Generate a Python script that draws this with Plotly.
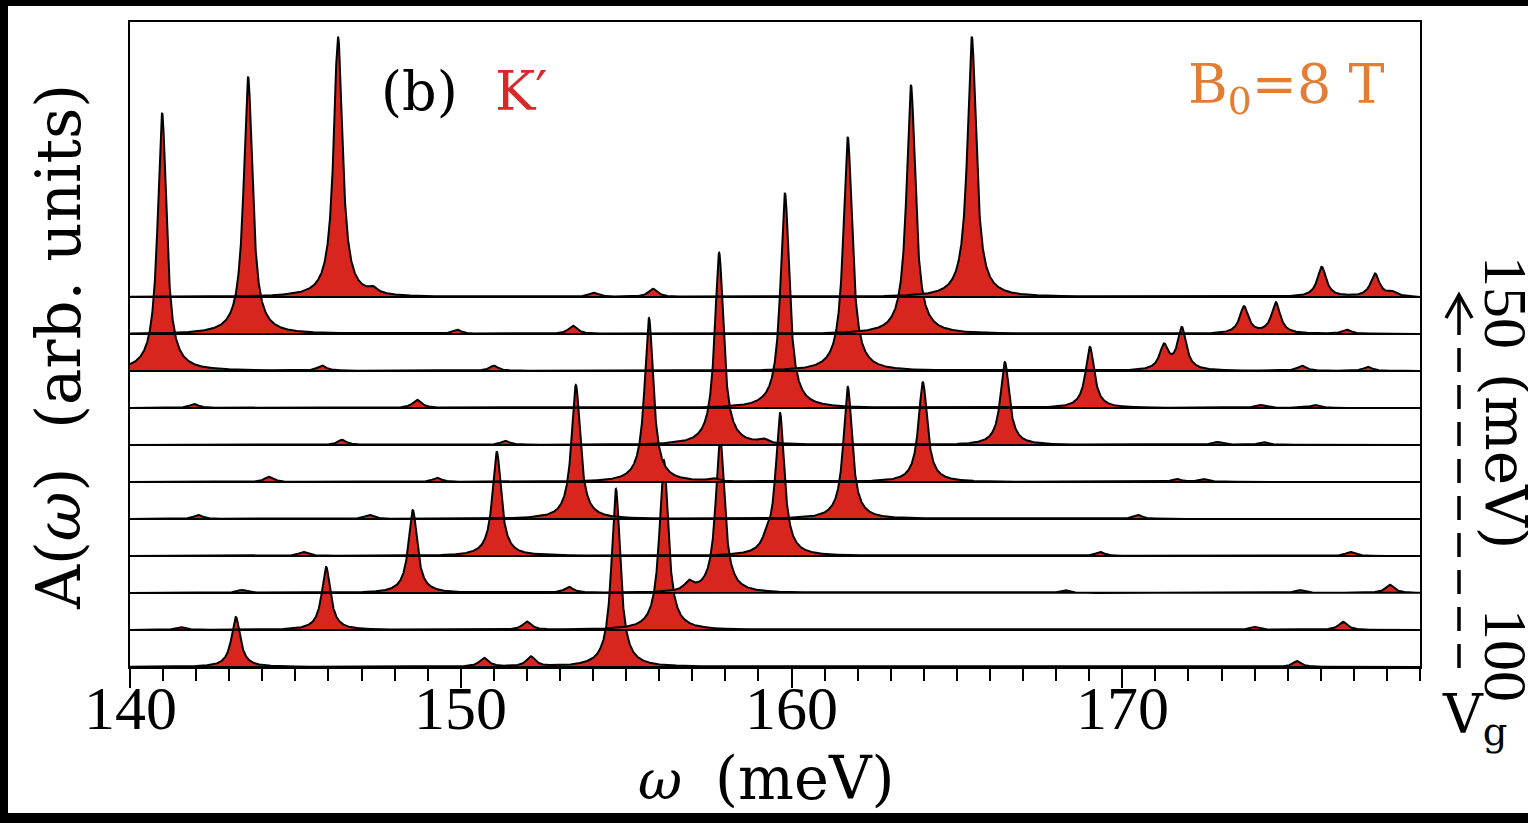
import numpy as np
import plotly.graph_objects as go

# ---------------- data ----------------
omega_range = [140.0, 179.0]          # meV
curve_offset = 1.0                    # vertical shift between successive V_g curves
gamma = 0.16                          # Lorentzian half width (meV)

# peak centres (meV); curve 0 = lowest V_g (100 meV) ... curve 10 = highest (150 meV)
peak_centers = [
    [143.20, 150.70, 152.12, 154.69, 175.28],
    [141.51, 145.93, 152.00, 156.14, 173.98, 176.67],
    [143.36, 148.55, 153.27, 156.90, 157.84, 168.26, 175.37, 178.09],
    [145.23, 151.09, 159.25, 159.65, 169.32, 176.88],
    [142.06, 147.22, 153.48, 161.70, 170.47],
    [144.20, 149.28, 155.69, 157.62, 163.97, 171.65, 172.44],
    [146.41, 151.34, 157.81, 159.14, 166.45, 172.86, 174.25],
    [141.93, 148.68, 159.80, 169.02, 174.16, 175.82],
    [140.97, 145.80, 151.00, 161.70, 171.26, 171.80, 175.43, 177.42],
    [143.57, 149.89, 153.39, 163.61, 173.68, 174.64, 176.79],
    [146.29, 147.35, 154.00, 155.81, 165.45, 176.03, 177.64, 178.15],
]
# peak heights (arb. units, one unit = offset between curves)
peak_heights = [
    [1.35, 0.24, 0.27, 4.81, 0.16],
    [0.08, 1.70, 0.22, 4.59, 0.08, 0.22],
    [0.08, 2.24, 0.16, 0.24, 4.22, 0.08, 0.08, 0.22],
    [0.11, 2.81, 0.27, 3.84, 0.11, 0.11],
    [0.11, 0.11, 3.62, 3.57, 0.11],
    [0.14, 0.11, 4.43, 0.08, 2.70, 0.08, 0.08],
    [0.14, 0.11, 5.19, 0.11, 2.24, 0.08, 0.08],
    [0.11, 0.22, 5.81, 1.65, 0.08, 0.08],
    [6.97, 0.14, 0.14, 6.32, 0.65, 1.14, 0.14, 0.11],
    [6.95, 0.11, 0.22, 6.73, 0.73, 0.84, 0.11],
    [7.03, 0.14, 0.11, 0.22, 7.03, 0.81, 0.62, 0.11],
]
x_tick_values = [140, 150, 160, 170]
x_tick_labels = ["140", "150", "160", "170"]

# ---------------- figure ----------------
W, H = 1528, 823
L, R, T, B = 130, 1420, 22, 667      # plot area in pixels
y_top = (B - T) / 37.0               # 37 px between curves


def px(x):
    return (x - L) / (R - L)


def py(y):
    return (B - y) / (B - T)


omega = np.arange(omega_range[0], omega_range[1] + 1e-9, 0.005)
fig = go.Figure()
for k, (cs, hs) in enumerate(zip(peak_centers, peak_heights)):
    base = k * curve_offset
    a = np.zeros_like(omega)
    for c, h in zip(cs, hs):
        a += h / (1.0 + ((omega - c) / gamma) ** 2)
    xs = np.concatenate([omega, [omega_range[1], omega_range[0]]])
    ys = np.concatenate([base + a, [base, base]])
    fig.add_trace(go.Scatter(
        x=xs, y=ys, mode="lines", fill="toself",
        fillcolor="#d8261f", line=dict(color="black", width=2),
        hoverinfo="skip", showlegend=False,
    ))

fig.update_xaxes(
    range=omega_range, tickvals=x_tick_values, showticklabels=False,
    ticks="outside", ticklen=19, tickwidth=2, tickcolor="black",
    minor=dict(ticks="outside", ticklen=12, tickwidth=2, tickcolor="black",
               dtick=1, tick0=140, showgrid=False),
    showline=True, linewidth=2, linecolor="black", mirror=True,
    showgrid=False, zeroline=False,
)
fig.update_yaxes(
    range=[0, y_top], showticklabels=False, ticks="",
    showline=True, linewidth=2, linecolor="black", mirror=True,
    showgrid=False, zeroline=False,
)

serif = "DejaVu Serif"
ann = []


def add_text(text, x, y, size, color="black", angle=0, xanchor="center",
             yanchor="middle", family=serif):
    ann.append(dict(text=text, x=px(x), y=py(y), xref="paper", yref="paper",
                    showarrow=False, textangle=angle, xanchor=xanchor,
                    yanchor=yanchor,
                    font=dict(family=family, size=size, color=color)))


# x tick labels (placed at their data values)
for v, lab in zip(x_tick_values, x_tick_labels):
    ann.append(dict(text=lab, x=v, y=py(708), xref="x", yref="paper",
                    showarrow=False, xanchor="center", yanchor="middle",
                    font=dict(family="Liberation Serif", size=62, color="black")))

add_text("(b)", 419, 92, 54)
add_text("K\u2032", 521, 92, 54, color="#d62a2a")
add_text("B<sub>0</sub>=8 T", 1387, 88, 54, color="#e17d35", xanchor="right")
add_text("<i>\u03c9</i>", 660, 780, 54)
add_text("(meV)", 805, 778, 59)
add_text("A(<i>\u03c9</i>)\u00a0\u00a0(arb. units)", 58, 347, 61, angle=-90)
add_text("V<sub>g</sub>", 1440, 718, 55, xanchor="left")
add_text("150", 1506, 302, 62, angle=90, family="Liberation Serif")
add_text("(meV)", 1506, 461, 58, angle=90)
add_text("100", 1506, 655, 62, angle=90, family="Liberation Serif")

shapes = [
    dict(type="rect", xref="paper", yref="paper", layer="below",
         x0=px(8), x1=px(1540), y0=py(813), y1=py(6),
         fillcolor="white", line=dict(width=0)),
    dict(type="line", xref="paper", yref="paper",
         x0=px(1459), x1=px(1459), y0=py(668), y1=py(318),
         line=dict(color="black", width=3.5, dash="24px,13px")),
    dict(type="line", xref="paper", yref="paper",
         x0=px(1459), x1=px(1459), y0=py(318), y1=py(296),
         line=dict(color="black", width=3.5)),
    dict(type="path", xref="paper", yref="paper",
         path=f"M {px(1446)} {py(318)} L {px(1459)} {py(295)} L {px(1472)} {py(318)}",
         line=dict(color="black", width=3.5)),
]

fig.update_layout(
    width=W, height=H,
    margin=dict(l=L, r=W - R, t=T, b=H - B, pad=0),
    paper_bgcolor="black", plot_bgcolor="white",
    annotations=ann, shapes=shapes, showlegend=False,
)
fig.write_html(
    "out.html",
    config={"displayModeBar": False},
    post_script="document.body.style.margin='0';document.body.style.overflow='hidden';",
)
